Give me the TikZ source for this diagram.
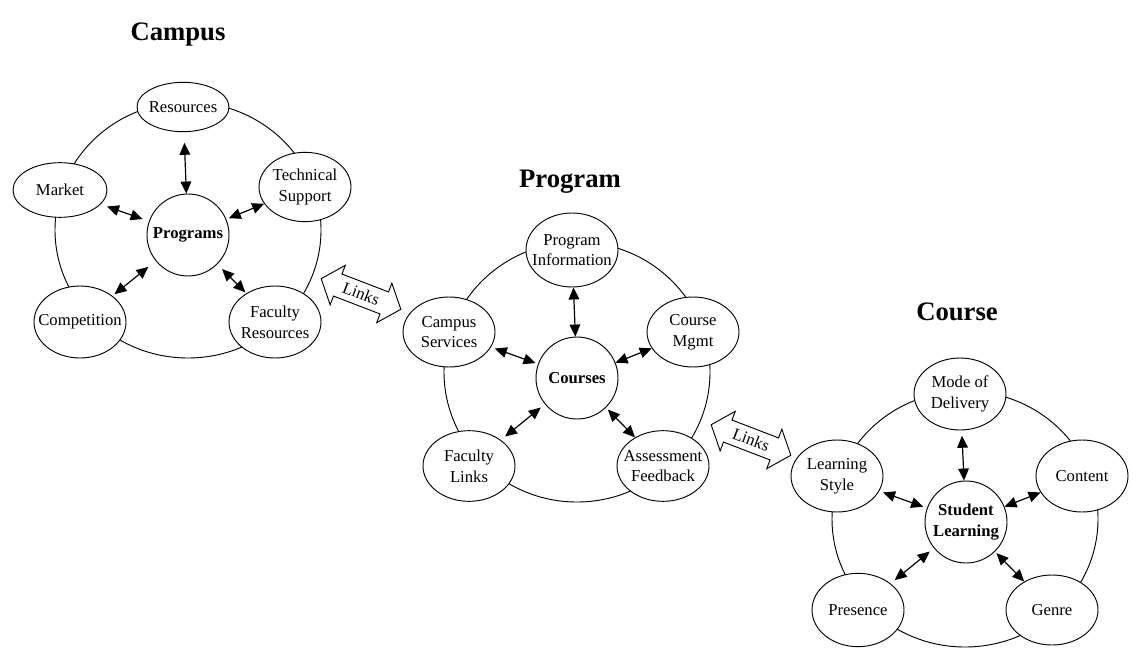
\documentclass[tikz,border=0pt]{standalone}
\usepackage{fontspec}
\setmainfont{Liberation Serif}
\usetikzlibrary{shapes.geometric,shapes.arrows,arrows.meta}
\newcommand\zw[1]{\makebox[0pt]{#1}}
\begin{document}
\begin{tikzpicture}[x=0.75pt,y=-0.75pt,
  every node/.style={font=\fontsize{12.5}{15.5}\selectfont},
  bub/.style={ellipse,draw,line width=0.7pt,fill=white,inner sep=0pt,align=center,minimum width=69pt,minimum height=54pt},
  hub/.style={circle,draw,line width=0.7pt,fill=white,inner sep=0pt,align=center,minimum size=61.5pt,font=\fontsize{12.5}{15.5}\selectfont\bfseries},
  ring/.style={draw,line width=0.7pt},
  title/.style={anchor=base,font=\fontsize{20}{24}\selectfont\bfseries},
  dbl/.style={{Triangle[length=9pt,width=8pt]}-{Triangle[length=9pt,width=8pt]},line width=0.9pt},
  links/.style={double arrow,draw,fill=white,line width=0.7pt,rotate=-21,minimum height=64pt,text height=9pt,text depth=1pt,inner xsep=1pt,inner ysep=3.5pt,double arrow head extend=7pt,double arrow tip angle=100,double arrow head indent=0pt}
]
\fill[white] (0,0) rectangle (1138,649);
\useasboundingbox (0,0) rectangle (1138,649);

% rings
\draw[ring] (188,230) ellipse [x radius=99.75pt, y radius=96pt];
\draw[ring] (577,372) ellipse [x radius=99.75pt, y radius=97.5pt];
\draw[ring] (965,519) ellipse [x radius=99.75pt, y radius=96pt];

% Campus
\node[title] (tcampus) at (178,41) {Campus};
\node[hub] (prog) at (188,235) {Programs};
\node[bub, minimum height=37pt] (res) at (183,107) {\zw{Resources}};
\node[bub, minimum width=70.5pt, minimum height=41pt] (mkt) at (60,190) {\zw{Market}};
\node[bub, minimum height=52pt] (tech) at (305,187) {\zw{Technical}\\\zw{Support}};
\node[bub] (comp) at (80,322) {\zw{Competition}};
\node[bub] (facr) at (275,322) {\zw{Faculty}\\\zw{Resources}};

\draw[dbl, shorten <=8pt] (res) -- (prog);
\draw[dbl, shorten <=5pt, shorten >=5pt] (mkt) -- (prog);
\draw[dbl, shorten >=2pt] (tech) -- (prog);
\draw[dbl, shorten <=2pt, shorten >=7pt] (comp) -- (prog);
\draw[dbl, shorten <=1pt, shorten >=5pt] (facr) -- (prog);

% Program
\node[title] (tprogram) at (570,187) {Program};
\node[hub] (courses) at (577,378) {Courses};
\node[bub, minimum height=55.5pt] (pinfo) at (572,250) {\zw{Program}\\\zw{Information}};
\node[bub, minimum height=52.5pt] (csvc) at (449,332) {\zw{Campus}\\\zw{Services}};
\node[bub, minimum height=52.5pt] (cmgmt) at (693,332) {\zw{Course}\\\zw{Mgmt}};
\node[bub, minimum height=53pt] (flinks) at (469,466) {\zw{Faculty}\\\zw{Links}};
\node[bub, minimum height=53pt] (assess) at (663,466) {\zw{Assessment}\\\zw{Feedback}};

\draw[dbl] (pinfo) -- (courses);
\draw[dbl, shorten <=3pt, shorten >=2pt] (csvc) -- (courses);
\draw[dbl] (cmgmt) -- (courses);
\draw[dbl, shorten <=4pt, shorten >=4pt] (flinks) -- (courses);
\draw[dbl, shorten >=2pt] (assess) -- (courses);

% Course
\node[title] (tcourse) at (957,320) {Course};
\node[hub] (sl) at (966,522) {Student\\Learning};
\node[bub] (mode) at (960,394) {\zw{Mode of}\\\zw{Delivery}};
\node[bub] (lstyle) at (837,476) {\zw{Learning}\\\zw{Style}};
\node[bub] (content) at (1082,476) {\zw{Content}};
\node[bub, minimum height=55pt] (presence) at (858,610) {\zw{Presence}};
\node[bub, minimum height=52.5pt] (genre) at (1052,610) {\zw{Genre}};

\draw[dbl, shorten <=4pt] (mode) -- (sl);
\draw[dbl, shorten <=3pt, shorten >=3pt] (lstyle) -- (sl);
\draw[dbl] (content) -- (sl);
\draw[dbl, shorten <=4pt, shorten >=4pt] (presence) -- (sl);
\draw[dbl, shorten >=1.5pt] (genre) -- (sl);

% Links
\node[links] (links1) at (361,294) {Links};
\node[links] (links2) at (751,440) {Links};
\end{tikzpicture}
\end{document}
